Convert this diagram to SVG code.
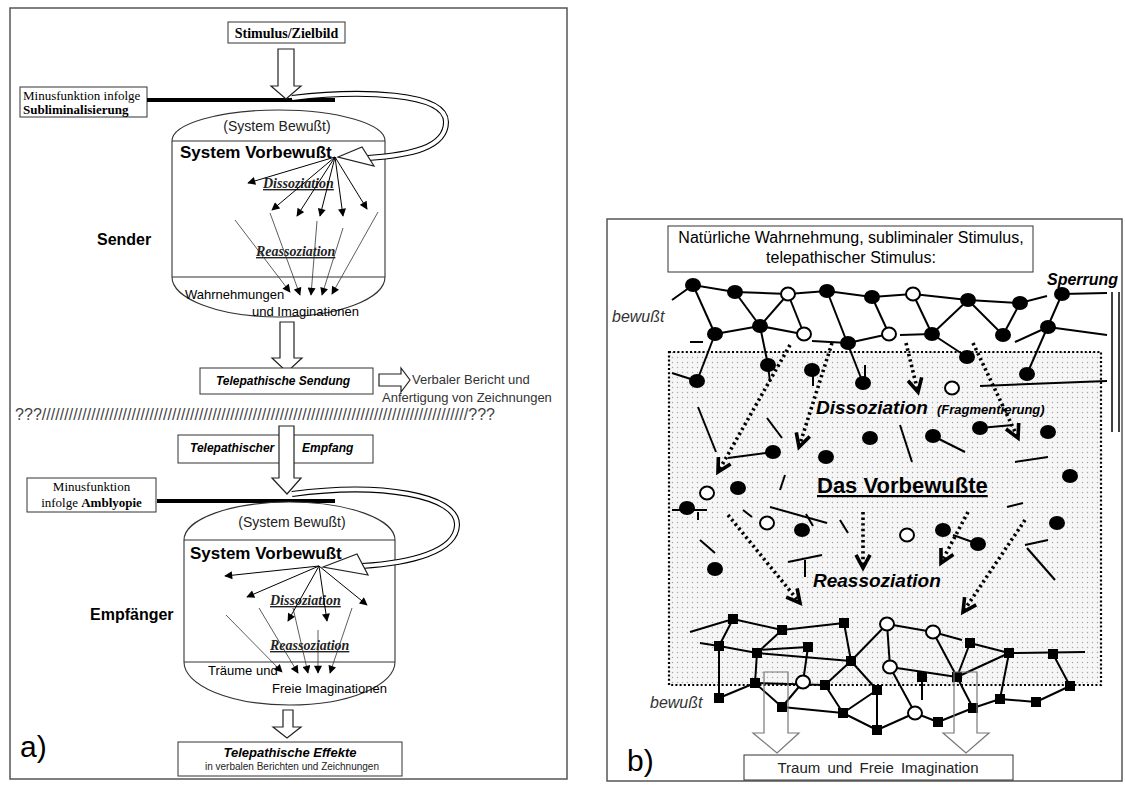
<svg xmlns="http://www.w3.org/2000/svg" width="1125" height="785" viewBox="0 0 1125 785">
<defs>
<marker id="ah" viewBox="0 0 10 10" refX="9" refY="5" markerWidth="9" markerHeight="8" markerUnits="userSpaceOnUse" orient="auto"><path d="M0,0 L10,5 L0,10 z" fill="#000"/></marker>
<pattern id="stip" width="5" height="5" patternUnits="userSpaceOnUse"><rect width="5" height="5" fill="#f6f6f6"/><circle cx="2.5" cy="2.5" r="0.7" fill="#a5a5a5"/></pattern>
</defs>
<style>
.frame{fill:none;stroke:#555;stroke-width:1.5}
.box{fill:#fff;stroke:#333;stroke-width:1}
.ser{font-family:"Liberation Serif","Times New Roman",serif}
.sans{font-family:"Liberation Sans",Arial,sans-serif}
.thick{stroke:#000;stroke-width:4}
.cyl{fill:#fff;stroke:#333;stroke-width:1.1}
.hol{fill:#fff;stroke:#222;stroke-width:1.2}
.div line{stroke:#000;stroke-width:1}
.rea line{stroke:#333;stroke-width:0.8}
.band1{fill:none;stroke:#000;stroke-width:6}
.band2{fill:none;stroke:#fff;stroke-width:3.8}
.uline{text-decoration:underline}
.edge line,.edge polyline{stroke:#000;stroke-width:2;fill:none}
.f{fill:#000}
.o{fill:#fff;stroke:#000;stroke-width:2}
.sq rect{fill:#000}
.dot{stroke:#000;stroke-width:3.6;stroke-dasharray:2.4 3.2;fill:none}
.chev{stroke:#000;stroke-width:3.6;fill:none}
.gar{fill:none;stroke:#777;stroke-width:1.2}
</style>
<rect width="1125" height="785" fill="#fff"/>

<!-- ============ PANEL A ============ -->
<rect class="frame" x="10" y="8" width="557" height="771"/>

<g id="stimulus">
<rect class="box" x="228" y="22" width="117" height="21"/>
<text class="ser" x="286.5" y="38" font-size="14" font-weight="bold" text-anchor="middle">Stimulus/Zielbild</text>
</g>

<g id="minus1">
<rect class="box" x="20" y="87" width="127" height="30"/>
<text class="ser" x="23" y="100" font-size="13">Minusfunktion infolge</text>
<text class="ser" x="23" y="114" font-size="13" font-weight="bold">Subliminalisierung</text>
</g>
<line class="thick" x1="147" y1="100" x2="335" y2="100"/>

<g id="cyl1">
<path class="cyl" d="M172,141 A106.5,31 0 0 1 385,141 L385,277 A106.5,40 0 0 1 172,277 Z"/>
<line x1="172" y1="141" x2="385" y2="141" stroke="#333" stroke-width="1.1"/>
<line x1="172" y1="277" x2="385" y2="277" stroke="#333" stroke-width="1.1"/>
<text class="sans" x="277" y="131" font-size="14" text-anchor="middle" fill="#222">(System Bewußt)</text>
<text class="sans" x="180" y="158" font-size="17" font-weight="bold">System Vorbewußt</text>
<text class="ser uline" x="263" y="188" font-size="14" font-weight="bold" font-style="italic" fill="#222">Dissoziation</text>
<text class="ser uline" x="256" y="256" font-size="14" font-weight="bold" font-style="italic" fill="#222">Reassoziation</text>
<text class="sans" x="185" y="299" font-size="13">Wahrnehmungen</text>
<text class="sans" x="252" y="316" font-size="13">und Imaginationen</text>
</g>
<g id="sender"><text class="sans" x="97" y="245" font-size="16" font-weight="bold">Sender</text></g>

<g id="connectors-a">
<path class="hol" d="M278,49 H294 V86 H301 L286,99 L271,86 H278 Z"/>
<path class="band1" d="M292,98 C360,90 446,92 446,122 C446,148 410,155 368,158"/>
<path class="band2" d="M292,98 C360,90 446,92 446,122 C446,148 410,155 368,158"/>
<polygon class="hol" points="338,157 362,147 374,166"/>
<g class="div">
<line x1="335" y1="157" x2="248" y2="183" marker-end="url(#ah)"/>
<line x1="335" y1="157" x2="272" y2="210" marker-end="url(#ah)"/>
<line x1="335" y1="157" x2="297" y2="216" marker-end="url(#ah)"/>
<line x1="335" y1="157" x2="320" y2="216" marker-end="url(#ah)"/>
<line x1="335" y1="157" x2="343" y2="216" marker-end="url(#ah)"/>
<line x1="335" y1="157" x2="367" y2="209" marker-end="url(#ah)"/>
</g>
<g class="rea">
<line x1="235" y1="220" x2="290" y2="292" marker-end="url(#ah)"/>
<line x1="270" y1="213" x2="300" y2="295" marker-end="url(#ah)"/>
<line x1="317" y1="221" x2="311" y2="295" marker-end="url(#ah)"/>
<line x1="343" y1="228" x2="322" y2="295" marker-end="url(#ah)"/>
<line x1="378" y1="212" x2="332" y2="294" marker-end="url(#ah)"/>
</g>
<path class="hol" d="M280,322 H294 V358 H302 L287,372 L272,358 H280 Z"/>
<path class="hol" d="M379,374 H401 V368 L410,380 L401,392 V386 H379 Z"/>
</g>

<g id="sendung">
<rect class="box" x="200" y="368" width="173" height="26"/>
<text class="sans" x="283" y="385" font-size="12" font-weight="bold" font-style="italic" text-anchor="middle">Telepathische Sendung</text>
</g>
<g id="bericht">
<text class="sans" x="412" y="384" font-size="13" fill="#333">Verbaler Bericht und</text>
<text class="sans" x="382" y="402" font-size="13" fill="#333">Anfertigung von Zeichnungen</text>
</g>
<text class="sans" x="15" y="420" font-size="16" fill="#444" textLength="480" lengthAdjust="spacing">???///////////////////////////////////////////////////////////////////////////////////////////////???</text>

<g id="empfang">
<rect class="box" x="178" y="435" width="195" height="28"/>
<text class="sans" x="190" y="452" font-size="12" font-weight="bold" font-style="italic">Telepathischer</text>
<text class="sans" x="302" y="452" font-size="12" font-weight="bold" font-style="italic">Empfang</text>
</g>
<path class="hol" d="M279,426 H294 V478 H301 L287,494 L272,478 H279 Z"/>

<g id="minus2">
<rect class="box" x="27" y="478" width="129" height="34"/>
<text class="ser" x="91.5" y="491" font-size="13" text-anchor="middle">Minusfunktion</text>
<text class="ser" x="91.5" y="507" font-size="13" text-anchor="middle">infolge <tspan font-weight="bold">Amblyopie</tspan></text>
</g>
<line class="thick" x1="157" y1="501" x2="335" y2="501"/>

<g id="cyl2">
<path class="cyl" d="M184,540 A105.5,38 0 0 1 395,540 L395,662 A105.5,43 0 0 1 184,662 Z"/>
<line x1="184" y1="540" x2="395" y2="540" stroke="#333" stroke-width="1.1"/>
<line x1="184" y1="662" x2="395" y2="662" stroke="#333" stroke-width="1.1"/>
<text class="sans" x="292" y="527" font-size="14" text-anchor="middle" fill="#222">(System Bewußt)</text>
<text class="sans" x="190" y="559" font-size="17" font-weight="bold">System Vorbewußt</text>
<text class="ser uline" x="270" y="605" font-size="14" font-weight="bold" font-style="italic" fill="#222">Dissoziation</text>
<text class="ser uline" x="270" y="650" font-size="14" font-weight="bold" font-style="italic" fill="#222">Reassoziation</text>
<text class="sans" x="208" y="675" font-size="13">Träume und</text>
<text class="sans" x="272" y="693" font-size="13">Freie Imaginationen</text>
</g>
<g id="empfaenger"><text class="sans" x="90" y="620" font-size="16" font-weight="bold">Empfänger</text></g>

<g id="connectors-a2">
<path class="band1" d="M292,494 C380,482 458,495 457,525 C456,552 410,563 362,566"/>
<path class="band2" d="M292,494 C380,482 458,495 457,525 C456,552 410,563 362,566"/>
<polygon class="hol" points="323,567 357,554 368,575"/>
<g class="div">
<line x1="319" y1="566" x2="225" y2="576" marker-end="url(#ah)"/>
<line x1="319" y1="566" x2="247" y2="597" marker-end="url(#ah)"/>
<line x1="319" y1="566" x2="367" y2="605" marker-end="url(#ah)"/>
<line x1="319" y1="566" x2="288" y2="621" marker-end="url(#ah)"/>
<line x1="319" y1="566" x2="327" y2="621" marker-end="url(#ah)"/>
</g>
<g class="rea">
<line x1="226" y1="615" x2="282" y2="672" marker-end="url(#ah)"/>
<line x1="259" y1="608" x2="298" y2="673" marker-end="url(#ah)"/>
<line x1="293" y1="608" x2="308" y2="673" marker-end="url(#ah)"/>
<line x1="318" y1="630" x2="318" y2="673" marker-end="url(#ah)"/>
<line x1="352" y1="608" x2="330" y2="673" marker-end="url(#ah)"/>
</g>
<path class="hol" d="M283,710 H293 V727 H301 L287,738 L273,727 H283 Z"/>
</g>

<g id="effekte">
<rect class="box" x="178" y="742" width="224" height="34"/>
<text class="sans" x="290" y="757" font-size="13" font-weight="bold" font-style="italic" text-anchor="middle">Telepathische Effekte</text>
<text class="sans" x="292" y="770" font-size="10" text-anchor="middle" fill="#222">in verbalen Berichten und Zeichnungen</text>
</g>
<text class="sans" x="20" y="757" font-size="30">a)</text>

<!-- ============ PANEL B ============ -->
<rect class="frame" x="607" y="219" width="515" height="562"/>

<g id="title-b">
<rect class="box" x="668" y="226" width="365" height="46"/>
<text class="sans" x="851" y="243" font-size="16" text-anchor="middle">Natürliche Wahrnehmung, subliminaler Stimulus,</text>
<text class="sans" x="851" y="263" font-size="16" text-anchor="middle">telepathischer Stimulus:</text>
</g>
<g id="sperrung">
<text class="sans" x="1047" y="285" font-size="16" font-weight="bold" font-style="italic">Sperrung</text>
<line x1="1112" y1="292" x2="1112" y2="432" stroke="#000" stroke-width="1.5"/>
<line x1="1119" y1="292" x2="1119" y2="432" stroke="#000" stroke-width="1.5"/>
</g>
<text class="sans" x="612" y="322" font-size="16" font-style="italic" fill="#333">bewußt</text>
<text class="sans" x="650" y="708" font-size="16" font-style="italic" fill="#333">bewußt</text>

<g id="vorbewusst-area">
<rect x="669" y="352" width="432" height="333" fill="url(#stip)" stroke="#000" stroke-width="2.2" stroke-dasharray="2 2.2"/>
</g>

<g id="net-edges" class="edge">
<polyline points="672,300 693,285 735,292 788,294 827,291 872,297 913,294 968,300 1020,303 1047,296"/>
<line x1="1062" y1="294" x2="1107" y2="293"/>
<line x1="693" y1="285" x2="715" y2="334"/>
<line x1="735" y1="292" x2="760" y2="326"/>
<line x1="760" y1="326" x2="788" y2="294"/>
<line x1="788" y1="294" x2="804" y2="334"/>
<line x1="715" y1="334" x2="760" y2="326"/>
<line x1="760" y1="326" x2="797" y2="333"/>
<line x1="812" y1="341" x2="848" y2="343"/>
<line x1="690" y1="342" x2="703" y2="342"/>
<line x1="827" y1="291" x2="863" y2="383"/>
<line x1="848" y1="343" x2="889" y2="334"/>
<line x1="889" y1="334" x2="872" y2="297"/>
<line x1="900" y1="335" x2="932" y2="334"/>
<line x1="932" y1="334" x2="913" y2="294"/>
<line x1="932" y1="334" x2="968" y2="300"/>
<line x1="968" y1="300" x2="1003" y2="335"/>
<line x1="1003" y1="335" x2="1020" y2="303"/>
<line x1="932" y1="334" x2="967" y2="357"/>
<line x1="1062" y1="294" x2="1027" y2="374"/>
<line x1="1015" y1="342" x2="1048" y2="327"/>
<line x1="1048" y1="327" x2="1107" y2="335"/>
<line x1="672" y1="373" x2="697" y2="381"/>
<line x1="697" y1="381" x2="715" y2="334"/>
<line x1="760" y1="326" x2="768" y2="365"/>
<line x1="768" y1="365" x2="770" y2="382"/>
<line x1="813" y1="370" x2="813" y2="386"/>
<line x1="865" y1="365" x2="865" y2="378"/>
<line x1="980" y1="386" x2="1107" y2="381"/>
<line x1="698" y1="407" x2="716" y2="452"/>
<line x1="767" y1="418" x2="782" y2="438"/>
<line x1="728" y1="458" x2="773" y2="452"/>
<line x1="900" y1="425" x2="912" y2="462"/>
<line x1="933" y1="436" x2="965" y2="452"/>
<line x1="980" y1="428" x2="1013" y2="425"/>
<line x1="1015" y1="462" x2="1048" y2="457"/>
<line x1="785" y1="475" x2="780" y2="490"/>
<line x1="672" y1="510" x2="707" y2="510"/>
<line x1="698" y1="512" x2="698" y2="520"/>
<line x1="743" y1="510" x2="752" y2="517"/>
<line x1="770" y1="507" x2="827" y2="523"/>
<line x1="806" y1="514" x2="813" y2="526"/>
<line x1="840" y1="520" x2="848" y2="533"/>
<line x1="1007" y1="507" x2="1023" y2="503"/>
<line x1="953" y1="535" x2="978" y2="544"/>
<line x1="700" y1="540" x2="715" y2="553"/>
<line x1="788" y1="562" x2="822" y2="555"/>
<line x1="805" y1="560" x2="805" y2="577"/>
<line x1="1025" y1="545" x2="1048" y2="540"/>
<line x1="1027" y1="548" x2="1055" y2="580"/>
<polyline points="690,632 733,619 782,630 844,623"/>
<line x1="733" y1="619" x2="719" y2="646"/>
<polyline points="700,643 719,646 757,653 851,661"/>
<line x1="757" y1="650" x2="808" y2="647"/>
<line x1="782" y1="630" x2="757" y2="653"/>
<line x1="844" y1="623" x2="851" y2="661"/>
<line x1="808" y1="647" x2="803" y2="682"/>
<line x1="719" y1="646" x2="719" y2="698"/>
<line x1="757" y1="653" x2="755" y2="683"/>
<line x1="755" y1="683" x2="719" y2="698"/>
<line x1="755" y1="683" x2="825" y2="685"/>
<line x1="755" y1="683" x2="782" y2="707"/>
<line x1="782" y1="707" x2="803" y2="682"/>
<line x1="782" y1="707" x2="843" y2="713"/>
<line x1="851" y1="661" x2="825" y2="685"/>
<line x1="851" y1="661" x2="877" y2="690"/>
<line x1="851" y1="661" x2="887" y2="624"/>
<line x1="825" y1="685" x2="843" y2="713"/>
<line x1="877" y1="690" x2="843" y2="713"/>
<line x1="877" y1="690" x2="877" y2="730"/>
<line x1="843" y1="713" x2="877" y2="730"/>
<line x1="877" y1="730" x2="915" y2="713"/>
<line x1="887" y1="624" x2="933" y2="632"/>
<line x1="887" y1="624" x2="890" y2="667"/>
<line x1="890" y1="667" x2="915" y2="713"/>
<line x1="890" y1="667" x2="957" y2="677"/>
<line x1="922" y1="677" x2="922" y2="700"/>
<line x1="933" y1="632" x2="957" y2="677"/>
<line x1="933" y1="632" x2="962" y2="640"/>
<line x1="970" y1="643" x2="957" y2="677"/>
<line x1="970" y1="643" x2="1009" y2="653"/>
<line x1="957" y1="677" x2="1009" y2="653"/>
<line x1="1009" y1="653" x2="1085" y2="652"/>
<line x1="1009" y1="653" x2="1000" y2="699"/>
<line x1="1053" y1="654" x2="1070" y2="686"/>
<line x1="1070" y1="686" x2="1036" y2="702"/>
<line x1="1000" y1="699" x2="1036" y2="702"/>
<line x1="957" y1="677" x2="973" y2="708"/>
<line x1="973" y1="708" x2="1000" y2="699"/>
<line x1="973" y1="708" x2="938" y2="722"/>
<line x1="938" y1="722" x2="915" y2="713"/>
</g>

<g id="net-nodes">
<g class="f">
<ellipse cx="693" cy="285" rx="8" ry="7"/><ellipse cx="735" cy="292" rx="8" ry="7"/>
<ellipse cx="827" cy="291" rx="8" ry="7"/><ellipse cx="872" cy="297" rx="8" ry="7"/>
<ellipse cx="968" cy="300" rx="8" ry="7"/><ellipse cx="1020" cy="303" rx="8" ry="7"/>
<ellipse cx="1062" cy="294" rx="8" ry="7"/><ellipse cx="715" cy="334" rx="8" ry="7"/>
<ellipse cx="760" cy="326" rx="8" ry="7"/><ellipse cx="848" cy="343" rx="8" ry="7"/>
<ellipse cx="932" cy="334" rx="8" ry="7"/><ellipse cx="1003" cy="335" rx="8" ry="7"/>
<ellipse cx="1048" cy="327" rx="8" ry="7"/><ellipse cx="967" cy="357" rx="8" ry="7"/>
<ellipse cx="697" cy="381" rx="8" ry="7"/><ellipse cx="768" cy="365" rx="8" ry="7"/>
<ellipse cx="812" cy="370" rx="8" ry="7"/><ellipse cx="863" cy="383" rx="8" ry="7"/>
<ellipse cx="1027" cy="374" rx="8" ry="7"/><ellipse cx="773" cy="452" rx="8" ry="7"/>
<ellipse cx="826" cy="457" rx="8" ry="7"/><ellipse cx="870" cy="438" rx="8" ry="7"/>
<ellipse cx="933" cy="436" rx="8" ry="7"/><ellipse cx="980" cy="428" rx="8" ry="7"/>
<ellipse cx="1048" cy="432" rx="8" ry="7"/><ellipse cx="1070" cy="476" rx="8" ry="7"/>
<ellipse cx="738" cy="488" rx="8" ry="7"/><ellipse cx="687" cy="508" rx="8" ry="7"/>
<ellipse cx="802" cy="530" rx="8" ry="7"/><ellipse cx="943" cy="530" rx="8" ry="7"/>
<ellipse cx="1057" cy="523" rx="8" ry="7"/><ellipse cx="978" cy="544" rx="8" ry="7"/>
<ellipse cx="715" cy="569" rx="8" ry="7"/>
</g>
<g class="o">
<ellipse cx="788" cy="294" rx="7" ry="6.5"/><ellipse cx="913" cy="294" rx="7" ry="6.5"/>
<ellipse cx="804" cy="334" rx="7" ry="6.5"/><ellipse cx="889" cy="334" rx="7" ry="6.5"/>
<ellipse cx="952" cy="388" rx="7" ry="6.5"/><ellipse cx="707" cy="493" rx="7" ry="6.5"/>
<ellipse cx="767" cy="523" rx="7" ry="6.5"/><ellipse cx="907" cy="535" rx="7" ry="6.5"/>
<ellipse cx="887" cy="624" rx="7" ry="6.5"/><ellipse cx="933" cy="632" rx="7" ry="6.5"/>
<ellipse cx="890" cy="667" rx="7" ry="6.5"/><ellipse cx="803" cy="682" rx="7" ry="6.5"/>
<ellipse cx="915" cy="713" rx="7" ry="6.5"/>
</g>
<g class="sq">
<rect x="728" y="614" width="10" height="10"/><rect x="777" y="625" width="10" height="10"/>
<rect x="839" y="618" width="10" height="10"/><rect x="714" y="641" width="10" height="10"/>
<rect x="752" y="648" width="10" height="10"/><rect x="803" y="642" width="10" height="10"/>
<rect x="846" y="656" width="10" height="10"/><rect x="965" y="638" width="10" height="10"/>
<rect x="1004" y="648" width="10" height="10"/><rect x="1048" y="649" width="10" height="10"/>
<rect x="917" y="672" width="10" height="10"/><rect x="952" y="672" width="10" height="10"/>
<rect x="750" y="678" width="10" height="10"/><rect x="820" y="680" width="10" height="10"/>
<rect x="872" y="685" width="10" height="10"/><rect x="1065" y="681" width="10" height="10"/>
<rect x="714" y="693" width="10" height="10"/><rect x="777" y="702" width="10" height="10"/>
<rect x="995" y="694" width="10" height="10"/><rect x="1031" y="697" width="10" height="10"/>
<rect x="968" y="703" width="10" height="10"/><rect x="838" y="708" width="10" height="10"/>
<rect x="872" y="725" width="10" height="10"/><rect x="933" y="717" width="10" height="10"/>
</g>
</g>

<g id="dotted-arrows">
<line class="dot" x1="790" y1="345" x2="718" y2="472"/>
<polyline class="chev" points="730.6,463.9 718,472 718.4,457"/>
<line class="dot" x1="832" y1="343" x2="799" y2="447"/>
<polyline class="chev" points="809.7,436.5 799,447 796.3,432.3"/>
<line class="dot" x1="906" y1="343" x2="918" y2="392"/>
<polyline class="chev" points="921.7,377.4 918,392 908,380.8"/>
<line class="dot" x1="973" y1="343" x2="1018" y2="438"/>
<polyline class="chev" points="1018.7,423 1018,438 1006,429"/>
<line class="dot" x1="728" y1="515" x2="800" y2="603"/>
<polyline class="chev" points="797.1,588.3 800,603 786.2,597.2"/>
<line class="dot" x1="863" y1="512" x2="863" y2="568"/>
<polyline class="chev" points="870,554.8 863,568 856,554.8"/>
<line class="dot" x1="968" y1="512" x2="941" y2="563"/>
<polyline class="chev" points="953.4,554.6 941,563 941,548"/>
<line class="dot" x1="1025" y1="520" x2="963" y2="612"/>
<polyline class="chev" points="976.2,604.9 963,612 964.6,597.1"/>
</g>

<g id="labels-b">
<text class="sans" x="816" y="414" font-size="19" font-weight="bold" font-style="italic">Dissoziation</text>
<text class="sans" x="937" y="414" font-size="13" font-weight="bold" font-style="italic">(Fragmentierung)</text>
<text class="sans uline" x="817" y="493" font-size="22" font-weight="bold">Das Vorbewußte</text>
<text class="sans" x="813" y="587" font-size="19" font-weight="bold" font-style="italic">Reassoziation</text>
</g>

<g id="out-arrows">
<path class="gar" d="M764,672 H788 V733 H799 L777,753 L753,733 H764 Z"/>
<path class="gar" d="M954,672 H977 V733 H989 L966,753 L943,733 H954 Z"/>
</g>
<g id="traum">
<rect class="box" x="744" y="755" width="269" height="25"/>
<text class="sans" x="878" y="773" font-size="15" text-anchor="middle" word-spacing="3" fill="#222">Traum und Freie Imagination</text>
</g>
<text class="sans" x="627" y="771" font-size="30">b)</text>
</svg>
